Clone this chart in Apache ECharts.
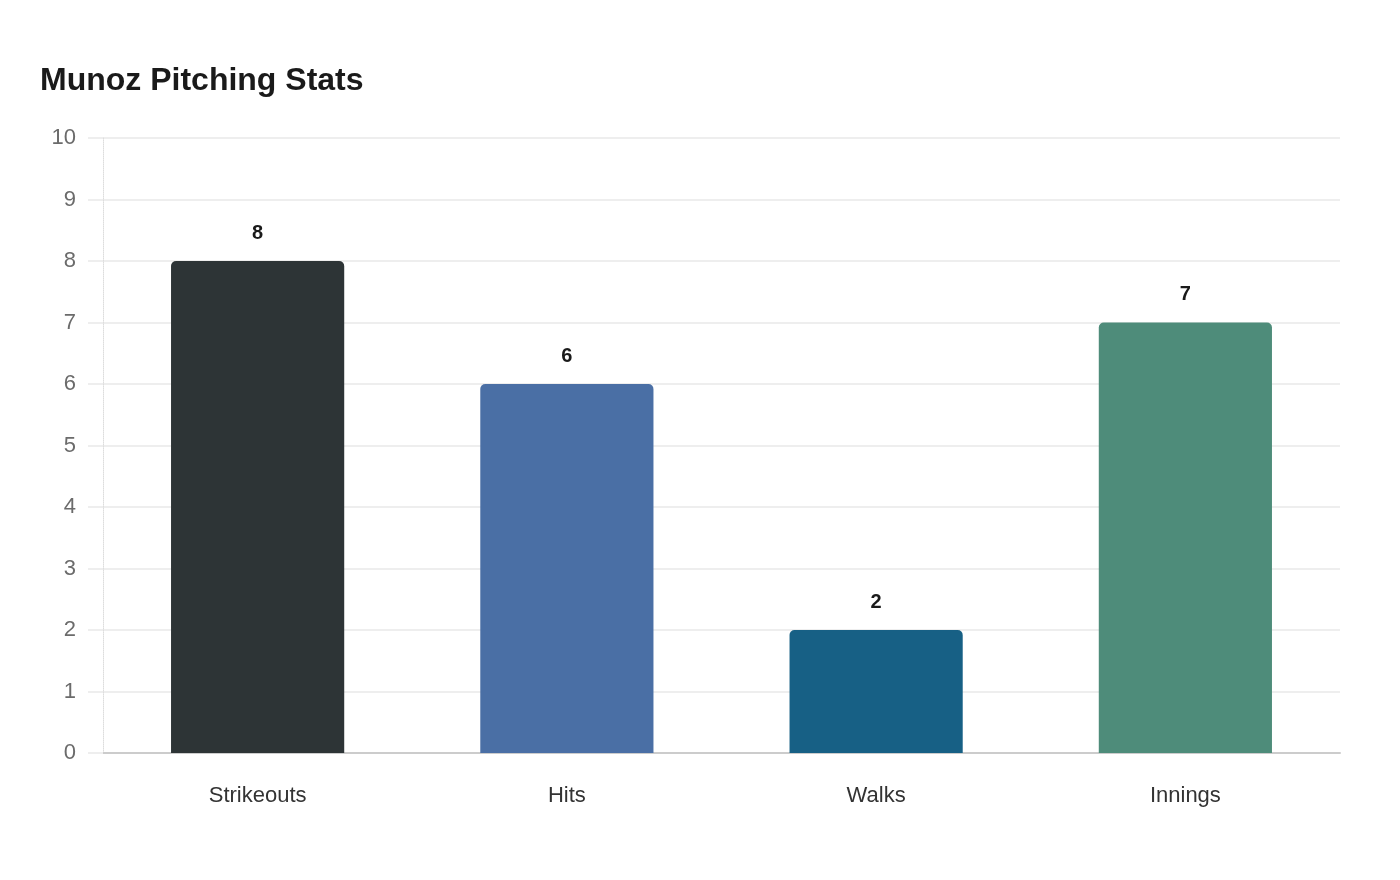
<!DOCTYPE html>
<html><head><meta charset="utf-8">
<script src="https://cdn.jsdelivr.net/npm/echarts@6/dist/echarts.min.js"></script>
<style>html,body{margin:0;padding:0;background:#fff}#c{width:1400px;height:880px}</style>
</head><body><div id="c"></div>
<script>
var categories = ["Strikeouts", "Hits", "Walks", "Innings"];
var values = [8, 6, 2, 7];
var colors = ["#2d3436", "#4a6fa5", "#176085", "#4e8c7a"];
var yTicks = {min: 0, max: 10, interval: 1};

var chart = echarts.init(document.getElementById('c'));
chart.setOption({
  animation: false,
  backgroundColor: '#fff',
  title: {text: 'Munoz Pitching Stats', left: 35, top: 60,
    textStyle: {fontFamily: 'Liberation Sans, Arial, sans-serif', fontSize: 32, fontWeight: 'bold', color: '#1a1a1a'}},
  grid: {left: 103, right: 60, top: 138, bottom: 127, containLabel: false},
  xAxis: {type: 'category', data: categories,
    axisLine: {lineStyle: {color: '#cccccc', width: 2}},
    axisTick: {show: false},
    axisLabel: {margin: 32, fontSize: 22, color: '#333', fontFamily: 'Liberation Sans, Arial, sans-serif'}},
  yAxis: {type: 'value', min: yTicks.min, max: yTicks.max, interval: yTicks.interval,
    axisLine: {show: true, lineStyle: {color: '#dddddd', type: 'dotted', width: 1}},
    axisTick: {show: true, length: 15, lineStyle: {color: '#eeeeee', width: 2}},
    splitLine: {lineStyle: {color: '#eeeeee', width: 2}},
    axisLabel: {margin: 27, fontSize: 22, color: '#6b6b6b', fontFamily: 'Liberation Sans, Arial, sans-serif'}},
  series: [{type: 'bar', barWidth: '56%',
    data: values.map(function(v, i){ return {value: v, itemStyle: {color: colors[i], borderRadius: [5,5,0,0]}}; }),
    label: {show: true, position: 'top', distance: 18, fontSize: 20, fontWeight: 'bold', color: '#1a1a1a',
      fontFamily: 'Liberation Sans, Arial, sans-serif'}}]
});
</script></body></html>
